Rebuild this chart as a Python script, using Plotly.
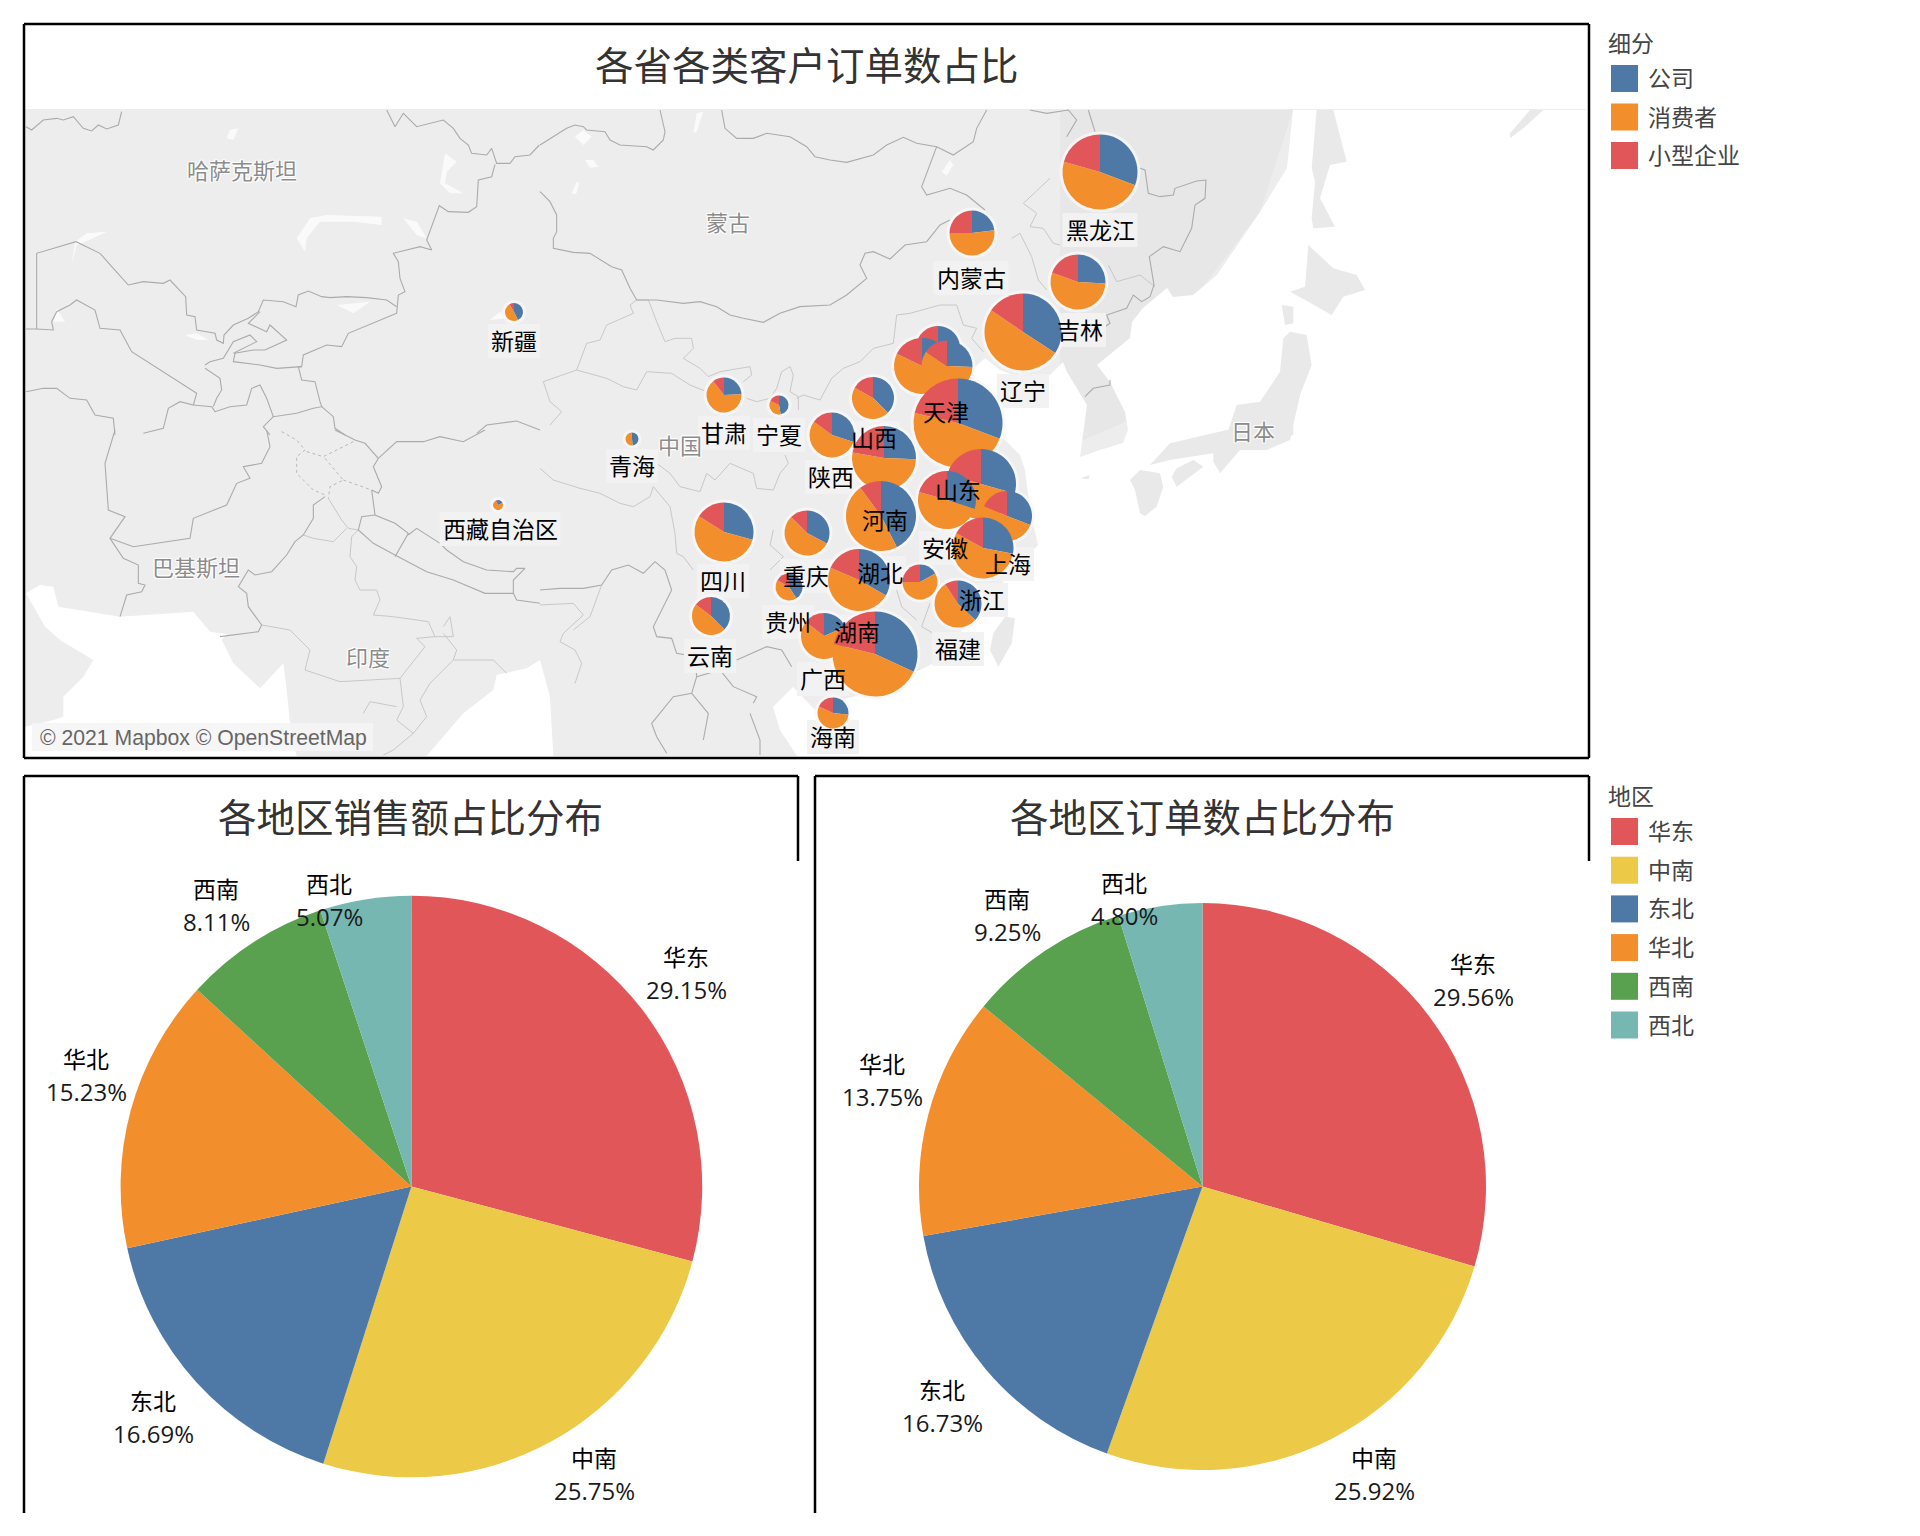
import plotly.graph_objects as go

# --- data ---
SEGMENTS = ["公司", "消费者", "小型企业"]
SEGMENT_COLORS = ["#4e79a7", "#f28e2b", "#e15759"]

PROVINCES = ["新疆", "西藏", "青海", "甘肃", "宁夏", "四川", "云南", "贵州", "重庆", "海南", "内蒙古",
             "黑龙江", "吉林", "辽宁", "北京", "河北", "天津", "山西", "陕西", "山东", "河南", "湖北",
             "江西", "广西", "湖南", "广东", "江苏", "安徽", "上海", "浙江", "福建"]
# order share per province, %
SHARE_COMPANY = [42.8, 18.1, 48.6, 24.4, 47.2, 29.2, 37.5, 40.8, 32.8, 26.7, 23.1,
                 30.8, 25.8, 34.2, 33.3, 31.9, 25.6, 37.5, 30.0, 30.8, 25.6, 42.5,
                 16.9, 18.6, 33.3, 31.9, 29.4, 30.0, 30.8, 28.0, 36.9]
SHARE_CONSUMER = [48.9, 73.6, 50.0, 65.0, 34.7, 54.7, 47.8, 42.5, 54.7, 55.3, 51.9,
                  48.6, 54.7, 50.3, 47.2, 50.3, 58.9, 45.7, 55.1, 47.8, 52.2, 47.4,
                  58.1, 66.9, 48.1, 46.9, 50.0, 49.4, 50.6, 55.0, 53.9]
SHARE_SMALL = [8.3, 8.3, 1.4, 10.6, 18.1, 16.1, 14.7, 16.7, 12.5, 18.0, 25.0,
               20.6, 19.5, 15.5, 19.5, 17.8, 15.5, 16.8, 14.9, 21.4, 22.2, 10.1,
               25.0, 14.5, 18.6, 21.2, 20.6, 20.6, 18.6, 17.0, 9.2]

REGIONS = ["华东", "中南", "东北", "华北", "西南", "西北"]
REGION_COLORS = ["#e15759", "#edc948", "#4e79a7", "#f28e2b", "#59a14f", "#76b7b2"]
SALES_SHARE = [29.15, 25.75, 16.69, 15.23, 8.11, 5.07]
ORDER_SHARE = [29.56, 25.92, 16.73, 13.75, 9.25, 4.80]

# --- placement on the page (pixels) ---
PIE_X = [514, 498, 632, 724, 779, 724, 711, 789, 807, 833, 972,
         1100, 1078, 1023, 938, 922, 947, 873, 832, 958, 884, 881,
         920, 824, 859, 875, 981, 947, 1007, 983, 958]
PIE_Y = [312, 505, 439, 395, 405, 532, 616, 587, 533, 713, 233,
         172, 282, 332, 348, 366, 366, 398, 435, 423, 458, 516,
         582, 636, 580, 654, 484, 500, 516, 548, 604]
PIE_R = [9, 5, 6.5, 17.5, 9.5, 29.5, 19, 13.5, 22.5, 15.5, 22.5,
         37.5, 27.5, 38.5, 22, 28, 25.5, 21, 22.5, 44.5, 32, 35,
         17.5, 23, 31, 42.5, 35, 29, 25, 30.5, 23.5]

LABELS = ["黑龙江", "内蒙古", "吉林", "辽宁", "天津", "山西", "陕西", "甘肃", "宁夏", "青海", "新疆", "西藏自治区", "山东",
          "河南", "安徽", "上海", "湖北", "重庆", "四川", "浙江", "贵州", "湖南", "福建", "云南", "广西", "海南"]
LABEL_X = [1100, 971, 1080, 1023, 946, 874, 831, 724, 779, 632, 514, 500, 958,
           885, 945, 1008, 880, 806, 723, 982, 788, 857, 958, 710, 823, 833]
LABEL_Y = [230, 278, 330, 391, 412, 438, 477, 433, 435, 466, 341, 529, 490,
           520, 548, 564, 573, 576, 581, 600, 622, 632, 649, 656, 679, 737]

BASE_LABELS = ["哈萨克斯坦", "蒙古", "日本", "中国", "巴基斯坦", "印度"]
BASE_X = [242, 728, 1253, 680, 196, 368]
BASE_Y = [170, 222, 431, 445, 567, 657]

SALES_LABEL_X = [686, 594, 153, 86, 216, 329]
SALES_LABEL_Y = [957, 1458, 1401, 1059, 889, 884]
ORDER_LABEL_X = [1473, 1374, 942, 882, 1007, 1124]
ORDER_LABEL_Y = [964, 1458, 1390, 1064, 899, 883]

# --- base map sketch, pixel traces from the reference, (origin, points at 3x) ---
NW = (20, 105)
SW = (20, 430)
NC = (540, 105)
SC = (540, 430)
NE = (1060, 105)
SE = (1060, 430)
CN1 = (800, 100)

WATER = [
    (SW, [(18, 490), (60, 465), (100, 470), (115, 530), (300, 560), (520, 545), (570, 605), (620, 612), (605, 630),
          (640, 700), (720, 775), (790, 700), (800, 780), (810, 880), (830, 978), (15, 978), (15, 890), (100, 870),
          (130, 860), (130, 800), (190, 740), (220, 690), (120, 630), (75, 590)]),
    (SW, [(1220, 978), (1330, 850), (1420, 780), (1430, 735), (1520, 715), (1560, 690), (1590, 800), (1600, 978)]),
    ((0, 0), [(1293, 110), (1290, 138), (1287, 168), (1260, 212), (1217, 275), (1193, 295), (1173, 297), (1167, 288),
              (1143, 308), (1132, 322), (1130, 338), (1097, 365), (1110, 382), (1125, 412), (1128, 430), (1123, 443),
              (1100, 450), (1080, 457), (1083, 435), (1087, 405), (1067, 372), (1063, 362), (1040, 385), (1000, 370),
              (985, 358), (970, 372), (955, 410), (985, 420), (1020, 455), (1025, 470), (1030, 510), (1038, 545),
              (1015, 570), (985, 600), (965, 625), (950, 650), (930, 665), (880, 690), (840, 700), (815, 710),
              (793, 687), (773, 707), (780, 730), (797, 756), (1586, 756), (1586, 110)]),
]
WATER_SMALL = [
    (NW, [(830, 400), (870, 340), (920, 330), (1085, 335), (1085, 360), (1000, 350), (900, 350), (860, 400), (855, 440)]),
    (NW, [(950, 600), (1050, 590), (1000, 625)]),
    (NW, [(1150, 340), (1190, 350), (1220, 400), (1190, 390)]),
    (NW, [(155, 480), (165, 410), (200, 385), (260, 380), (220, 400), (170, 420)]),
    (NW, [(100, 650), (110, 610), (135, 650)]),
    (NW, [(1275, 145), (1310, 170), (1280, 200), (1275, 235), (1330, 265), (1290, 265), (1260, 235)]),
    (NW, [(620, 100), (630, 75), (655, 70), (640, 105)]),
    (NW, [(495, 690), (530, 685), (565, 705), (530, 705)]),
    (NW, [(1410, 645), (1440, 620), (1460, 640)]),
    (NC, [(105, 95), (130, 75), (155, 95), (130, 120)]),
    (NC, [(135, 165), (160, 165), (175, 185), (150, 188)]),
    (NC, [(460, 85), (470, 25), (490, 20), (470, 80)]),
    (NC, [(1205, 200), (1230, 165), (1240, 180), (1220, 212)]),
    (NC, [(95, 265), (110, 230), (118, 235), (108, 268)]),
]
LAND_ISLANDS = [
    (NE, [(820, 15), (860, 170), (810, 180), (780, 280), (825, 365), (760, 370), (755, 340), (765, 230), (755, 190), (770, 15)]),
    (NE, [(745, 420), (820, 490), (890, 510), (915, 555), (850, 575), (815, 630), (745, 590), (690, 560), (735, 545)]),
    (NE, [(665, 600), (700, 605), (700, 655), (675, 660)]),
    (NE, [(690, 680), (740, 690), (755, 780), (720, 870), (700, 960), (700, 990), (500, 990), (530, 900), (600, 890), (660, 800), (670, 700)]),
    (SE, [(500, 0), (700, 0), (690, 30), (620, 60), (540, 60), (480, 130), (460, 95), (460, 70), (330, 90), (270, 105), (330, 40)]),
    (SE, [(335, 140), (350, 170), (410, 125), (430, 110), (400, 90), (350, 115)]),
    (SE, [(210, 150), (240, 120), (300, 130), (310, 170), (290, 230), (255, 258), (240, 250), (225, 180)]),
    (SE, [(60, 145), (90, 135), (85, 148)]),
    (SC, [(1395, 560), (1425, 565), (1415, 640), (1375, 710), (1350, 660), (1360, 610)]),
    (NE, [(1350, 100), (1390, 70), (1450, 15), (1410, 15), (1350, 85)]),
]
BORDERS = [
    (NW, [(18, 65), (35, 75), (70, 45), (110, 40), (130, 45), (160, 35), (190, 70), (215, 78), (235, 60), (260, 72), (295, 60), (305, 20)]),
    (NW, [(1100, 15), (1125, 65), (1150, 25), (1190, 65), (1270, 45), (1300, 70), (1320, 100), (1345, 120), (1355, 145), (1400, 150), (1415, 130), (1430, 175), (1470, 175), (1485, 155), (1530, 150), (1558, 120)]),
    (NW, [(1425, 178), (1415, 215), (1375, 225), (1370, 305), (1345, 322), (1285, 320), (1258, 302), (1220, 405), (1235, 435), (1200, 425), (1120, 445), (1135, 470), (1140, 520), (1155, 560), (1135, 570), (1130, 625)]),
    (NW, [(1130, 605), (1100, 585), (1040, 578), (980, 575), (930, 578), (905, 575), (865, 558), (835, 570), (828, 605), (790, 590), (730, 585), (715, 620), (685, 640), (640, 660), (612, 690), (610, 715), (590, 705), (585, 685), (530, 675), (525, 635), (500, 630), (497, 575), (450, 525), (430, 535), (370, 530), (325, 540), (280, 490), (240, 445), (168, 410), (50, 445), (50, 672), (18, 672)]),
    (NW, [(50, 672), (100, 675), (95, 650), (110, 620), (150, 600), (170, 585), (225, 615), (240, 670), (300, 675), (335, 740), (530, 865), (520, 900), (480, 890), (445, 910), (430, 970), (370, 985)]),
    (NW, [(1130, 625), (1060, 655), (985, 685), (965, 725), (920, 720), (850, 750), (845, 785), (770, 790), (720, 780), (640, 770), (645, 745), (700, 735), (735, 735), (800, 705), (750, 660), (740, 680), (685, 655), (720, 620)]),
    (NW, [(555, 780), (570, 770), (610, 760), (640, 710), (690, 690), (710, 710), (640, 745)]),
    (NW, [(845, 785), (835, 785), (845, 825), (885, 830), (900, 890), (905, 905), (880, 910), (830, 925), (760, 935), (740, 880), (720, 840), (695, 850), (680, 900), (630, 905), (585, 920), (575, 905), (520, 900)]),
    (NW, [(555, 790), (600, 820), (605, 855), (590, 880), (580, 905)]),
    (NW, [(760, 935), (730, 965), (750, 990)]),
    (NW, [(905, 905), (940, 935), (945, 970), (975, 990)]),
    (NW, [(18, 860), (70, 850), (110, 850), (150, 880), (200, 885), (225, 930), (280, 940), (285, 990)]),
    (SW, [(285, 0), (255, 100), (265, 240), (315, 260), (270, 325), (340, 350), (510, 325), (520, 265), (620, 225), (650, 160), (690, 145), (670, 110), (725, 100), (750, 50), (740, 0)]),
    (SW, [(270, 325), (310, 385), (355, 405), (355, 460), (375, 465), (365, 485), (320, 495), (300, 560)]),
    (SW, [(915, 200), (880, 225), (880, 265), (850, 315), (825, 335), (800, 375), (755, 425), (705, 435), (685, 420), (655, 470), (680, 490), (685, 530), (725, 585), (715, 605), (600, 620)]),
    (SW, [(945, 0), (1005, 30), (1035, 40), (1075, 85), (1060, 110), (1085, 170), (1075, 190), (1055, 180), (1065, 255), (1125, 280), (1165, 310), (1125, 380)]),
    (SW, [(1165, 315), (1190, 295), (1260, 340), (1280, 360), (1330, 395), (1400, 420), (1480, 425), (1490, 415), (1515, 415), (1480, 450), (1480, 490), (1395, 490), (1300, 450), (1220, 425), (1125, 375), (1060, 340), (1015, 300), (1025, 260), (1065, 255)]),
    (SW, [(1480, 490), (1490, 510), (1560, 520)]),
    (SW, [(1075, 85), (1130, 35), (1210, 35), (1260, 20), (1330, 35), (1395, 0)]),
    (NW, [(1370, 985), (1400, 960), (1490, 948), (1560, 975)]),
    (NC, [(0, 120), (50, 90), (80, 70), (105, 60), (130, 65), (140, 75), (195, 80), (210, 105), (240, 120), (320, 125), (340, 135), (370, 105), (375, 80), (360, 15)]),
    (NC, [(545, 15), (555, 70), (590, 100), (640, 100), (680, 85), (750, 95), (800, 125), (825, 155), (870, 165), (920, 172), (1000, 150), (1040, 120), (1090, 97), (1130, 115), (1190, 125), (1240, 150), (1300, 110), (1310, 70), (1340, 15)]),
    (NC, [(1190, 125), (1165, 190), (1145, 245), (1160, 270), (1230, 250), (1280, 270), (1335, 315)]),
    (NC, [(0, 260), (30, 290), (50, 330), (50, 380), (40, 400), (40, 430), (100, 442), (150, 445), (215, 485), (245, 495), (270, 550), (290, 585), (350, 585), (430, 595), (480, 590), (530, 605), (570, 630), (610, 640), (670, 652), (720, 625), (780, 605), (870, 600), (920, 570), (980, 520), (960, 480), (975, 445), (1000, 440), (1050, 462), (1095, 420), (1160, 410), (1200, 360), (1230, 345)]),
    (CN1, [(690, 30), (740, 40), (805, 30), (830, 60), (800, 110)]),
    (CN1, [(865, 30), (885, 95)]),
    (NE, [(240, 190), (255, 195), (265, 265), (300, 275), (340, 270), (345, 250), (410, 228), (438, 225), (435, 280), (405, 300), (395, 370), (360, 440), (310, 425), (268, 455), (282, 540), (270, 575), (245, 590), (220, 570), (200, 610), (140, 630), (150, 655), (135, 665)]),
    (NE, [(150, 825), (150, 840), (100, 850), (75, 875)]),
    (SC, [(0, 480), (60, 475), (130, 475), (185, 465), (215, 420), (265, 405), (310, 430), (345, 395), (375, 420), (395, 480), (340, 590), (350, 620), (395, 625), (410, 670), (465, 680), (470, 740), (455, 790), (400, 800), (335, 880), (350, 920), (380, 970)]),
    (SC, [(470, 740), (540, 720), (580, 770), (650, 800), (640, 820)]),
    (SC, [(590, 690), (680, 650), (725, 660), (755, 710)]),
    (SC, [(455, 790), (505, 850), (490, 930)]),
    (SC, [(630, 850), (660, 930), (660, 975)]),
]
PROVINCE_LINES = [
    (NC, [(290, 585), (325, 585), (350, 650), (375, 710), (405, 700), (455, 700), (460, 730), (430, 760), (480, 790), (505, 815), (540, 800), (630, 785), (635, 810), (610, 830)]),
    (NC, [(290, 585), (270, 600), (280, 625), (200, 660), (180, 705), (140, 715), (110, 795), (10, 830), (30, 890), (65, 920), (30, 960)]),
    (NC, [(110, 795), (200, 820), (250, 845), (290, 855), (320, 800), (395, 805), (450, 840), (500, 860)]),
    (NC, [(620, 880), (650, 890), (690, 880), (710, 850), (725, 800), (750, 785), (760, 810), (750, 860), (775, 875), (775, 915)]),
    (NC, [(770, 880), (790, 870), (840, 885), (875, 820), (910, 790), (935, 780), (960, 770), (1000, 730), (1060, 715), (1070, 630), (1110, 625), (1200, 600), (1250, 600), (1270, 660), (1310, 670), (1295, 700), (1330, 740)]),
    (CN1, [(750, 235), (670, 310), (710, 340), (690, 380), (730, 385), (760, 430), (780, 435)]),
    (CN1, [(635, 415), (660, 400), (695, 470), (715, 540), (740, 570)]),
    (NE, [(145, 480), (170, 530), (240, 510), (285, 545)]),
    (SC, [(0, 115), (40, 150), (120, 175), (180, 190), (240, 220), (280, 230), (330, 200), (340, 170), (390, 230), (405, 310), (410, 370), (430, 380), (460, 420)]),
    (SC, [(350, 100), (390, 130), (420, 170), (480, 185), (500, 130), (525, 150), (570, 100), (640, 130), (650, 175), (700, 180), (720, 130), (745, 100), (735, 75)]),
    (SC, [(0, 525), (100, 520), (130, 555), (70, 610), (60, 635), (105, 660), (125, 700), (105, 760)]),
    (SC, [(185, 465), (150, 560), (100, 600)]),
    (SC, [(1070, 480), (1085, 530), (1130, 570)]),
    (SC, [(1170, 520), (1145, 590), (1180, 610)]),
    (SC, [(700, 300), (690, 345), (730, 380), (690, 420)]),
    (SW, [(925, 205), (965, 270), (985, 295), (1015, 300), (995, 320), (990, 380), (1010, 410), (1005, 450), (1020, 480), (1070, 480), (1080, 510), (1060, 555), (1120, 560), (1225, 575), (1245, 620), (1300, 620), (1290, 560), (1270, 590)]),
    (SW, [(850, 315), (880, 325), (940, 335), (980, 295)]),
    (SW, [(725, 585), (810, 600), (870, 660), (855, 720), (960, 755), (1140, 745), (1215, 650), (1190, 625), (1245, 620)]),
    (SW, [(1140, 745), (1150, 830), (1130, 870), (1180, 910), (1220, 860), (1200, 810), (1230, 760), (1300, 690), (1310, 660), (1270, 610)]),
    (SW, [(1300, 690), (1420, 690), (1460, 730)]),
    (SW, [(1030, 850), (1050, 815), (1130, 830)]),
    (SW, [(1180, 910), (1120, 960), (1090, 975)]),
]
DOTTED_LINES = [
    (SW, [(785, 5), (830, 30), (855, 60), (830, 80), (830, 130), (880, 180), (915, 195)]),
    (SW, [(860, 65), (910, 80), (1000, 35)]),
    (SW, [(915, 85), (970, 150), (930, 170), (925, 205)]),
    (SW, [(970, 150), (1055, 180)]),
]

FONT = "Noto Sans CJK SC"
W, H = 1920, 1536
HALO = "0 0 2px #fff, 1px 1px 1px #fff, -1px -1px 1px #fff, 1px -1px 1px #fff, -1px 1px 1px #fff"


def to_px(origin, pts):
    xs = [origin[0] + p[0] / 3 if origin != (0, 0) else p[0] for p in pts]
    ys = [origin[1] + p[1] / 3 if origin != (0, 0) else p[1] for p in pts]
    return xs, ys


def add_area(fig, origin, pts, color):
    xs, ys = to_px(origin, pts)
    fig.add_trace(go.Scatter(x=xs + xs[:1], y=ys + ys[:1], mode="lines", fill="toself", fillcolor=color,
                             line=dict(width=0), hoverinfo="skip", showlegend=False))


def add_line(fig, origin, pts, color, width, dash="solid"):
    xs, ys = to_px(origin, pts)
    fig.add_trace(go.Scatter(x=xs, y=ys, mode="lines", line=dict(color=color, width=width, dash=dash),
                             hoverinfo="skip", showlegend=False))


def pie_domain(cx, cy, r):
    return dict(x=[(cx - r) / W, (cx + r) / W], y=[1 - (cy + r) / H, 1 - (cy - r) / H])


def add_pie(fig, name, labels, values, colors, cx, cy, r):
    fig.add_trace(go.Pie(name=name, labels=labels, values=values, domain=pie_domain(cx, cy, r), sort=False,
                         direction="clockwise", rotation=0, textinfo="none", hoverinfo="label+percent",
                         marker=dict(colors=colors, line=dict(width=0)), showlegend=False))


def text(fig, x, y, s, size, color="#000000", family=FONT, anchor="center", shadow=None):
    fig.add_annotation(x=x, y=y, xref="x", yref="y", text=s, showarrow=False, xanchor=anchor, yanchor="middle",
                       font=dict(family=family, size=size, color=color, shadow=shadow or "none"))


def frame(fig, x0, y0, x1, y1):
    fig.add_shape(type="line", x0=x0, y0=y0, x1=x1, y1=y1, xref="x", yref="y", line=dict(color="#000000", width=2.5))


fig = go.Figure()

# --- base map ---
add_area(fig, (0, 0), [(24, 109), (1586, 109), (1586, 756), (24, 756)], "#ededed")
add_area(fig, (0, 0), [(1060, 110), (1293, 110), (1260, 212), (1193, 300), (1130, 340), (1130, 420), (1060, 450)], "#e7e7e7")
for origin, pts in WATER:
    add_area(fig, origin, pts, "#ffffff")
for origin, pts in WATER_SMALL:
    add_area(fig, origin, pts, "#fafafa")
for origin, pts in LAND_ISLANDS:
    add_area(fig, origin, pts, "#e9e9e9")
for origin, pts in PROVINCE_LINES:
    add_line(fig, origin, pts, "#c8c8c8", 1)
for origin, pts in DOTTED_LINES:
    add_line(fig, origin, pts, "#b8b8b8", 1, "dot")
for origin, pts in BORDERS:
    add_line(fig, origin, pts, "#ababab", 1.1)

# --- label plates sit on the map but under the pies ---
for s, x, y in zip(LABELS, LABEL_X, LABEL_Y):
    hw = len(s) * 23 / 2 + 3
    add_area(fig, (0, 0), [(x - hw, y - 17), (x + hw, y - 17), (x + hw, y + 17), (x - hw, y + 17)], "#f2f2f2")

# --- province pies, halos first so they stay off the neighbouring pies ---
for i, prov in enumerate(PROVINCES):
    add_pie(fig, prov + " halo", ["halo"], [1], ["rgba(248,248,248,0.8)"], PIE_X[i], PIE_Y[i], PIE_R[i] + 3)
    fig.data[-1].hoverinfo = "skip"
for i, prov in enumerate(PROVINCES):
    add_pie(fig, prov, SEGMENTS, [SHARE_COMPANY[i], SHARE_CONSUMER[i], SHARE_SMALL[i]], SEGMENT_COLORS,
            PIE_X[i], PIE_Y[i], PIE_R[i])

# --- region pies ---
add_pie(fig, "销售额", REGIONS, SALES_SHARE, REGION_COLORS, 411.4, 1186.5, 290.8)
add_pie(fig, "订单数", REGIONS, ORDER_SHARE, REGION_COLORS, 1202.5, 1186.5, 283.5)

# --- text on the map ---
for s, x, y in zip(BASE_LABELS, BASE_X, BASE_Y):
    text(fig, x, y - 1.5, s, 22, color="#8c8c8c", shadow=HALO)
for s, x, y in zip(LABELS, LABEL_X, LABEL_Y):
    text(fig, x, y - 1.5, s, 23)

fig.add_shape(type="rect", x0=32, y0=723, x1=373, y1=751, xref="x", yref="y", fillcolor="rgba(245,245,245,0.85)",
              line=dict(width=0))
text(fig, 203, 738, "© 2021 Mapbox © OpenStreetMap", 21.2, color="#666666", family="Liberation Sans")

# --- titles ---
text(fig, 807, 62.5, "各省各类客户订单数占比", 38.5, color="#333333")
text(fig, 410, 814.5, "各地区销售额占比分布", 38.5, color="#333333")
text(fig, 1202, 814.5, "各地区订单数占比分布", 38.5, color="#333333")

# --- region pie labels ---
for names, shares, xs, ys in [(REGIONS, SALES_SHARE, SALES_LABEL_X, SALES_LABEL_Y),
                              (REGIONS, ORDER_SHARE, ORDER_LABEL_X, ORDER_LABEL_Y)]:
    for s, v, x, y in zip(names, shares, xs, ys):
        text(fig, x, y - 1.5, s, 23)
        text(fig, x, y + 32, f"{v:.2f}%", 24, color="#1a1a1a", family="Open Sans")

# --- legends ---
text(fig, 1606, 42, "细分", 23, color="#444444", anchor="left")
for i, s in enumerate(SEGMENTS):
    y = 78.5 + 38.5 * i
    fig.add_shape(type="rect", x0=1611, x1=1638, y0=y - 13.5, y1=y + 13.5, xref="x", yref="y",
                  fillcolor=SEGMENT_COLORS[i], line=dict(width=0))
    text(fig, 1646, y - 1.5, s, 23, color="#444444", anchor="left")

text(fig, 1606, 795, "地区", 23, color="#444444", anchor="left")
for i, s in enumerate(REGIONS):
    y = 831.5 + 38.7 * i
    fig.add_shape(type="rect", x0=1611, x1=1638, y0=y - 13.5, y1=y + 13.5, xref="x", yref="y",
                  fillcolor=REGION_COLORS[i], line=dict(width=0))
    text(fig, 1646, y - 1.5, s, 23, color="#444444", anchor="left")

# --- frames ---
frame(fig, 24, 24, 1589, 24)
frame(fig, 24, 24, 24, 758)
frame(fig, 1589, 24, 1589, 758)
frame(fig, 24, 758, 1589, 758)
frame(fig, 24, 776, 798, 776)
frame(fig, 24, 776, 24, 1513)
frame(fig, 798, 776, 798, 861)
frame(fig, 815, 776, 1589, 776)
frame(fig, 815, 776, 815, 1513)
frame(fig, 1589, 776, 1589, 861)

fig.update_layout(
    width=W, height=H, margin=dict(l=0, r=0, t=0, b=0), paper_bgcolor="#ffffff", plot_bgcolor="#ffffff",
    xaxis=dict(range=[0, W], visible=False, fixedrange=True),
    yaxis=dict(range=[H, 0], visible=False, fixedrange=True),
    showlegend=False, font=dict(family=FONT),
)

fig.write_html("out.html", config={"displayModeBar": False}, post_script="document.body.style.margin='0';")
